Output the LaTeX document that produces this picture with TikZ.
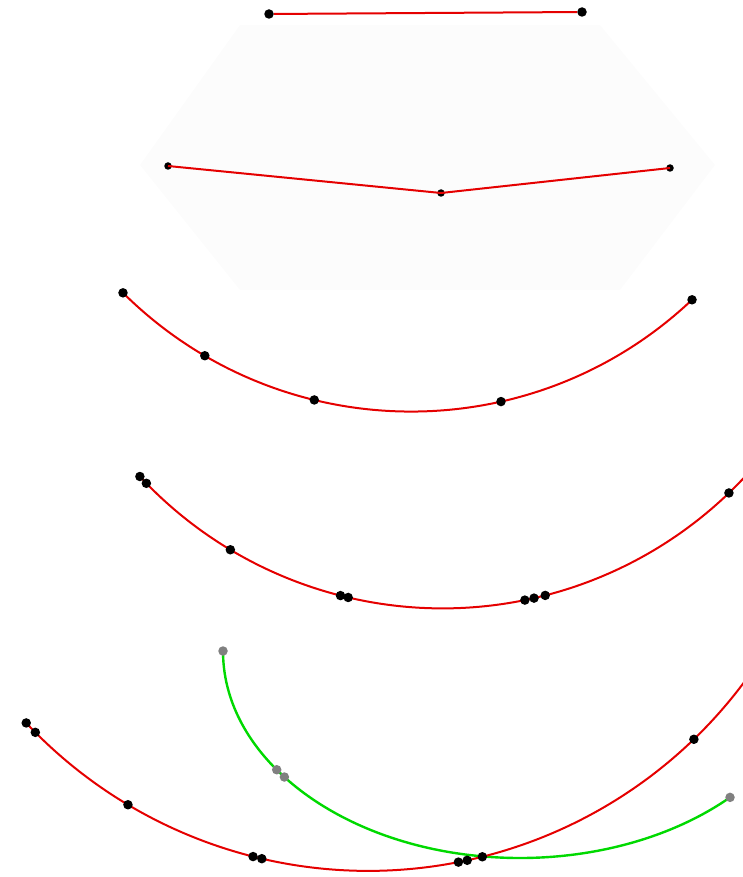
\documentclass[tikz,border=0pt]{standalone}
\usetikzlibrary{calc}
\begin{document}
\begin{tikzpicture}[x=1pt,y=-1pt,
  dotb/.style={circle,fill=black,inner sep=0pt,minimum size=9.5pt},
  dotg/.style={circle,fill=gray,inner sep=0pt,minimum size=9.5pt},
  redline/.style={draw=red!90!black,line width=2pt},
  greenline/.style={draw=green!85!black,line width=2.4pt}]
\useasboundingbox (0,0) rectangle (742,877);
\fill[black!1] (240,25) -- (600,25) -- (715,165) -- (620,290) -- (240,290) -- (140,165) -- cycle;
% row 1
\node[dotb] (a1) at (269,14) {};
\node[dotb] (a2) at (582,12) {};
\draw[redline] (a1) -- (a2);
% row 2
\node[dotb,minimum size=7.5pt] (b1) at (168,166) {};
\node[dotb,minimum size=7.5pt] (b2) at (441,193) {};
\node[dotb,minimum size=7.5pt] (b3) at (670,168) {};
\draw[redline] (b1.center) -- (b2.center) -- (b3.center);
% row 3 : circle centre (411.1,2.7), r = 408.9
\coordinate (c0) at (411.1,2.7);
\draw[redline] ($(c0)+(134.8:408.9)$) arc[start angle=134.8,end angle=46.6,radius=408.9];
\node[dotb] (c1) at ($(c0)+(134.8:408.9)$) {};
\node[dotb] (c2) at ($(c0)+(120.3:408.9)$) {};
\node[dotb] (c3) at ($(c0)+(103.7:408.9)$) {};
\node[dotb] (c4) at ($(c0)+(77.3:408.9)$) {};
\node[dotb] (c5) at ($(c0)+(46.6:408.9)$) {};
% row 4 : circle centre (442.5,195.3), r = 413.1
\coordinate (d0) at (442.5,195.3);
\draw[redline] ($(d0)+(137.1:413.1)$) arc[start angle=137.1,end angle=43.0,radius=413.1];
\node[dotb] (d1) at ($(d0)+(137.1:413.1)$) {};
\node[dotb] (d2) at ($(d0)+(135.8:413.1)$) {};
\node[dotb] (d3) at ($(d0)+(120.9:413.1)$) {};
\node[dotb] (d4) at ($(d0)+(104.3:413.1)$) {};
\node[dotb] (d5) at ($(d0)+(103.2:413.1)$) {};
\node[dotb] (d6) at ($(d0)+(78.5:413.1)$) {};
\node[dotb] (d7) at ($(d0)+(77.2:413.1)$) {};
\node[dotb] (d8) at ($(d0)+(75.6:413.1)$) {};
\node[dotb] (d9) at ($(d0)+(46.1:413.1)$) {};
% row 5 green : ellipse centre (520,651), radii 297 and 207
\coordinate (g0) at (520,651);
\draw[greenline] ($(g0)+(180:297 and 207)$) arc[start angle=180,end angle=45,x radius=297,y radius=207];
% row 5 red : circle centre (368.1,401.9), r = 469
\coordinate (e0) at (368.1,401.9);
\draw[redline] ($(e0)+(136.8:469)$) arc[start angle=136.8,end angle=36.5,radius=469];
\node[dotg] (g1) at ($(g0)+(180:297 and 207)$) {};
\node[dotg] (g2) at ($(g0)+(145:297 and 207)$) {};
\node[dotg] (g3) at ($(g0)+(142.5:297 and 207)$) {};
\node[dotg] (g4) at ($(g0)+(45:297 and 207)$) {};
\node[dotb] (e1) at ($(e0)+(136.8:469)$) {};
\node[dotb] (e2) at ($(e0)+(135.2:469)$) {};
\node[dotb] (e3) at ($(e0)+(120.8:469)$) {};
\node[dotb] (e4) at ($(e0)+(104.2:469)$) {};
\node[dotb] (e5) at ($(e0)+(103.1:469)$) {};
\node[dotb] (e6) at ($(e0)+(78.9:469)$) {};
\node[dotb] (e7) at ($(e0)+(77.8:469)$) {};
\node[dotb] (e8) at ($(e0)+(75.9:469)$) {};
\node[dotb] (e9) at ($(e0)+(46.0:469)$) {};
\end{tikzpicture}
\end{document}
